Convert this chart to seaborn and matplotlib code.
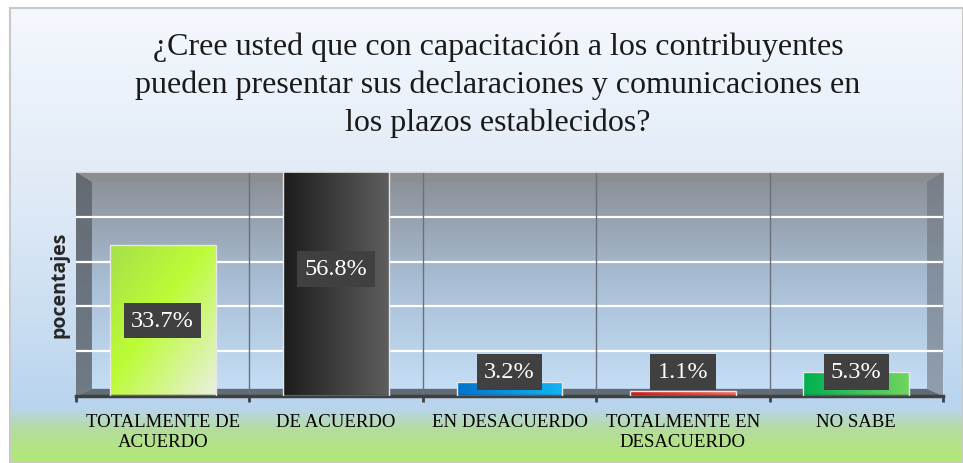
import numpy as np
import pandas as pd
import seaborn as sns
import matplotlib.pyplot as plt
from matplotlib.colors import LinearSegmentedColormap, to_rgb
from matplotlib.patches import Polygon, Rectangle

# data
categorias = ['TOTALMENTE DE\nACUERDO', 'DE ACUERDO', 'EN DESACUERDO',
              'TOTALMENTE EN\nDESACUERDO', 'NO SABE']
porcentajes = [33.7, 56.8, 3.2, 1.1, 5.3]
etiquetas = ['33.7%', '56.8%', '3.2%', '1.1%', '5.3%']
titulo = ('¿Cree usted que con capacitación a los contribuyentes\n'
          'pueden presentar sus declaraciones y comunicaciones en\n'
          'los plazos establecidos?')

# gradient pairs for each bar (start, end)
gradientes = [('#a6e04a', '#eaf0e0'), ('#1c1c1c', '#5e5e5e'),
              ('#0074cc', '#12b4f4'), ('#d81818', '#ff6a5a'),
              ('#00b050', '#70d460')]
paleta = [g[0] for g in gradientes]

df = pd.DataFrame({'categoria': categorias, 'valor': porcentajes})

W, H = 963, 464
fig = plt.figure(figsize=(W / 100, H / 100), dpi=100)
fig.patch.set_facecolor('white')

# chart area background with border
bg = fig.add_axes([10 / W, 0, 1 - 10 / W, (H - 9) / H], zorder=-2)
bg_cmap = LinearSegmentedColormap.from_list('bg', [
    (0.0, '#f5f8fd'), (0.45, '#dde9f6'), (0.88, '#b9d4ee'),
    (0.93, '#b4dd9c'), (1.0, '#b2ea72')])
bg.imshow(np.linspace(0, 1, 256).reshape(-1, 1), cmap=bg_cmap,
          aspect='auto', extent=(0, 1, 0, 1))
bg.set_xlim(0, 1)
bg.set_ylim(0, 1)
bg.set_xticks([])
bg.set_yticks([])
for s in bg.spines.values():
    s.set_color('#c8c8c8')
    s.set_linewidth(1.5)

# plot area
left, right, top, bottom = 76, 943, 173, 397
ax = fig.add_axes([left / W, (H - bottom) / H, (right - left) / W, (bottom - top) / H])
ymax = 50
ax.set_xlim(-0.5, 4.5)
ax.set_ylim(0, ymax)

wall_cmap = LinearSegmentedColormap.from_list('wall', ['#c6e0f8', '#a9bfd6', '#8a8d92'])
ax.imshow(np.linspace(0, 1, 256).reshape(-1, 1), cmap=wall_cmap, origin='lower',
          aspect='auto', extent=(-0.5, 4.5, 0, ymax), zorder=0)

# 3D walls and floor
dx, dtop, dfloor = 0.092, 2.2, 1.6
ax.add_patch(Polygon([(-0.5, 0), (-0.5, ymax), (-0.5 + dx, ymax - dtop), (-0.5 + dx, dfloor)],
                     closed=True, facecolor='#5a6169', alpha=0.8, edgecolor='none', zorder=1))
ax.add_patch(Polygon([(4.5, 0), (4.5, ymax), (4.5 - dx, ymax - dtop), (4.5 - dx, dfloor)],
                     closed=True, facecolor='#6c737c', alpha=0.6, edgecolor='none', zorder=1))
ax.add_patch(Polygon([(-0.5, ymax), (4.5, ymax), (4.5 - dx, ymax - dtop), (-0.5 + dx, ymax - dtop)],
                     closed=True, facecolor='#8c8e92', edgecolor='none', zorder=1))
ax.add_patch(Polygon([(-0.5, 0), (4.5, 0), (4.5 - dx, dfloor), (-0.5 + dx, dfloor)],
                     closed=True, facecolor='#626a74', edgecolor='none', zorder=1))

for gy in [10, 20, 30, 40]:
    ax.axhline(gy, color='white', lw=1.6, zorder=1.5)
for sx in [0.5, 1.5, 2.5, 3.5]:
    ax.axvline(sx, color='#6a717a', lw=1, zorder=1.6)

sns.barplot(data=df, x='categoria', y='valor', hue='categoria', palette=paleta,
            width=0.61, legend=False, ax=ax, zorder=2)

bar_patches = [p for p in ax.patches if isinstance(p, Rectangle) and p.get_height() > 0][:5]
for patch, (c0, c1) in zip(bar_patches, gradientes):
    x0, y0 = patch.get_x(), patch.get_y()
    w, h = patch.get_width(), min(patch.get_height(), ymax)
    a, b = np.array(to_rgb(c0)), np.array(to_rgb(c1))
    gx, gy = np.meshgrid(np.linspace(0, 1, 60), np.linspace(0, 1, 60))
    if c0 == '#a6e04a':
        # diagonal: top-left -> bright middle -> pale bottom-right
        t = np.clip((gx + gy) / 2, 0, 1)[..., None]
        mid = np.array(to_rgb('#bcfc36'))
        img = np.where(t < 0.45, a + (mid - a) * (t / 0.45),
                       mid + (b - mid) * ((t - 0.45) / 0.55))
    else:
        img = a + (b - a) * gx[..., None]
    im = ax.imshow(img, extent=(x0, x0 + w, y0, y0 + h), origin='upper',
                   aspect='auto', zorder=2.5)
    im.set_clip_path(patch)
    patch.set_facecolor('none')
    patch.set_edgecolor('#e6e6e6')
    patch.set_linewidth(1)
    patch.set_zorder(2.6)

# data labels
for i, (v, lab) in enumerate(zip(porcentajes, etiquetas)):
    ypos = v / 2 if v > 10 else 5.4
    ax.text(i, ypos, lab, ha='center', va='center', fontsize=17.5, color='white',
            family='Liberation Serif', zorder=4,
            bbox=dict(boxstyle='square,pad=0.3', facecolor='#404040', edgecolor='none'))

ax.set_xlim(-0.5, 4.5)
ax.set_ylim(0, ymax)
ax.set_xticks(range(5))
ax.set_xticklabels(categorias, family='Liberation Serif', fontsize=13.5, color='black',
                   linespacing=1.25)
ax.set_xticks(np.arange(-0.5, 5, 1), minor=True)
ax.tick_params(axis='x', which='major', length=0, pad=12)
ax.tick_params(axis='x', which='minor', length=4, width=2, color='#404040')
ax.set_yticks([])
ax.set_xlabel('')
ax.set_ylabel('pocentajes', family='Open Sans', fontweight='bold', fontsize=14,
              color='#262626', labelpad=5)
for s in ['left', 'right']:
    ax.spines[s].set_visible(False)
ax.spines['top'].set_color('#e4e4e4')
ax.spines['top'].set_linewidth(1.2)
ax.spines['bottom'].set_color('#404040')
ax.spines['bottom'].set_linewidth(2.5)

fig.text(498 / W, 1 - 85 / H, titulo, ha='center', va='center', fontsize=23,
         family='Liberation Serif', color='#1a1a1a', linespacing=1.38)

fig.savefig('out.png', dpi=100)
